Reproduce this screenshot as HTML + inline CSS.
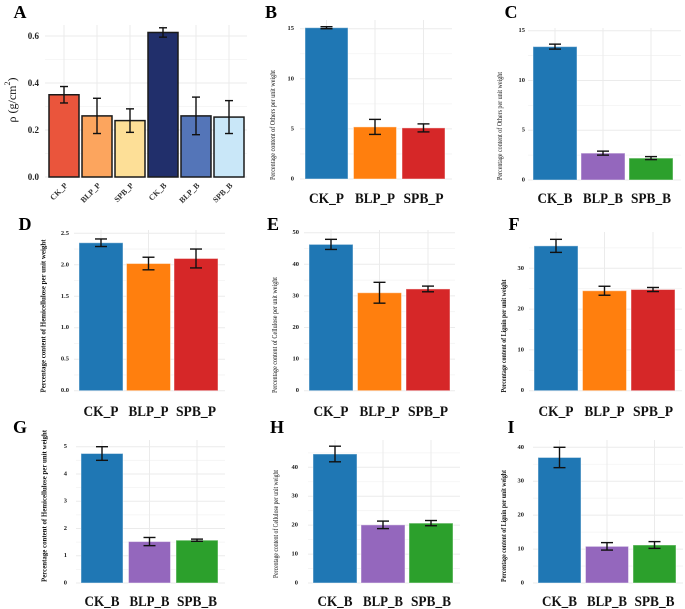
<!DOCTYPE html>
<html><head><meta charset="utf-8">
<style>
html,body{margin:0;padding:0;background:#fff;}
svg{display:block;font-family:"Liberation Serif",serif;}
</style></head>
<body>
<svg id="fig" width="685" height="609" viewBox="0 0 685 609" xmlns="http://www.w3.org/2000/svg"></svg>
<script>
// ---- data ----
const catsA = ["CK_P","BLP_P","SPB_P","CK_B","BLP_B","SPB_B"];
const meansA = [0.35,0.26,0.24,0.615,0.26,0.255];
const errsA = [0.035,0.075,0.05,0.02,0.08,0.07];
const ticksA = [0,0.2,0.4,0.6];
const tickLabelsA = ["0.0","0.2","0.4","0.6"];

const catsP = ["CK_P","BLP_P","SPB_P"];
const catsB = ["CK_B","BLP_B","SPB_B"];

const meansB = [15.1,5.2,5.1];
const errsB = [0.1,0.75,0.4];
const ticksB = [0,5,10,15];

const meansC = [13.4,2.7,2.2];
const errsC = [0.25,0.2,0.15];
const ticksC = [0,5,10,15];

const meansD = [2.35,2.02,2.1];
const errsD = [0.06,0.1,0.15];
const ticksD = [0,0.5,1.0,1.5,2.0,2.5];
const tickLabelsD = ["0.0","0.5","1.0","1.5","2.0","2.5"];

const meansE = [46.3,31,32.2];
const errsE = [1.6,3.3,0.9];
const ticksE = [0,10,20,30,40,50];

const meansF = [35.5,24.5,24.8];
const errsF = [1.6,1.1,0.5];
const ticksF = [0,10,20,30];

const meansG = [4.75,1.52,1.57];
const errsG = [0.25,0.15,0.04];
const ticksG = [0,1,2,3,4,5];

const meansH = [44.6,20.1,20.7];
const errsH = [2.7,1.3,0.9];
const ticksH = [0,10,20,30,40];

const meansI = [37,10.8,11.2];
const errsI = [3,1.1,1];
const ticksI = [0,10,20,30,40];

const colorsP = ["#1f77b4","#ff7f0e","#d62728"];
const colorsB = ["#1f77b4","#9467bd","#2ca02c"];
const colorsA = ["#ea553c","#fca55e","#fddf97","#212f6b","#5475b8","#c9e7f8"];

const NS = "http://www.w3.org/2000/svg";
const svg = document.getElementById("fig");
function mk(tag, attrs, parent){
  const e = document.createElementNS(NS, tag);
  for (const k in attrs) e.setAttribute(k, attrs[k]);
  (parent||svg).appendChild(e);
  return e;
}

function panel(cfg){
  const g = mk("g", {});
  
  
  const k = (cfg.y0 - cfg.refPx) / cfg.refVal;
  const yS = v => cfg.y0 - v * k;
  const ticks = cfg.ticks;
  for (let i = 0; i < ticks.length; i++) {
    const step = ticks.length > 1 ? ticks[1]-ticks[0] : 1;
    const m = ticks[i] + step/2;
    if (yS(m) > cfg.top) {
      const l = mk("line", {x1:cfg.px0, x2:cfg.px1, y1:yS(m), y2:yS(m), stroke:"#f3f3f3", "stroke-width":0.8}, g);
      
      
    }
  }
  ticks.forEach((t,i) => {
    const y = yS(t);
    const l = mk("line", {x1:cfg.px0, x2:cfg.px1, y1:y, y2:y, stroke:"#ebebeb", "stroke-width":1}, g);
    
    
    const tx = mk("text", {x:cfg.tickX, y:y, "text-anchor":"end", "dominant-baseline":"central", "font-size":cfg.tickFs, "font-weight":"bold", fill:"#222"}, g);
    tx.textContent = cfg.tickLabels ? cfg.tickLabels[i] : String(t);
    
    
  });
  cfg.cats.forEach((c,i) => {
    const cx = cfg.barX + i*cfg.step + cfg.bw/2;
    const l = mk("line", {x1:cx, x2:cx, y1:cfg.top, y2:cfg.y0, stroke:"#ebebeb", "stroke-width":1}, g);
    
    
  });
  cfg.cats.forEach((c,i) => {
    const x = cfg.barX + i*cfg.step;
    const cx = x + cfg.bw/2;
    const v = cfg.means[i], e = cfg.errs[i];
    const r = mk("rect", {x:x, y:yS(v), width:cfg.bw, height:cfg.y0 - yS(v), fill:cfg.colors[i],
      stroke: cfg.dark ? "#1a1a1a" : "rgba(255,255,255,0.45)", "stroke-width": cfg.dark ? 1.5 : 1}, g);
    
    
    const eg = mk("g", {stroke:"#111", "stroke-width":1.4, fill:"none"}, g);
    
    
    const hw = cfg.capW/2;
    mk("line", {x1:cx, x2:cx, y1:yS(v+e), y2:yS(v-e)}, eg);
    mk("line", {x1:cx-hw, x2:cx+hw, y1:yS(v+e), y2:yS(v+e)}, eg);
    mk("line", {x1:cx-hw, x2:cx+hw, y1:yS(v-e), y2:yS(v-e)}, eg);
    let t;
    if (cfg.rotLabels) {
      t = mk("text", {x:cx+4, y:cfg.labY, "text-anchor":"end", "font-size":8, "font-weight":"bold", fill:"#333",
        transform:"rotate(-45 " + (cx+4) + " " + cfg.labY + ")"}, g);
    } else {
      t = mk("text", {x:cx, y:cfg.labY, "text-anchor":"middle", "font-size":15, "font-weight":"bold", fill:"#111",
        textLength: c.startsWith("CK") ? 35 : 40, lengthAdjust:"spacingAndGlyphs"}, g);
    }
    t.textContent = c;
    
    
  });
  const yt = mk("text", {x:cfg.titleX, y:cfg.titleC, "text-anchor":"middle", "dominant-baseline":"central",
    "font-size":cfg.titleFs, "font-weight":cfg.titleBold ? "bold":"normal", fill:"#111",
    transform:"rotate(-90 " + cfg.titleX + " " + cfg.titleC + ")"}, g);
  if (cfg.titleLen) { yt.setAttribute("textLength", cfg.titleLen); yt.setAttribute("lengthAdjust","spacingAndGlyphs"); }
  if (cfg.rho) {
    yt.textContent = "ρ (g/cm";
    const s = mk("tspan", {"baseline-shift":"super", "font-size":8}, yt);
    s.textContent = "2";
    const s2 = mk("tspan", {}, yt);
    s2.textContent = ")";
  } else {
    yt.textContent = cfg.title;
  }
  
  
  const pl = mk("text", {x:cfg.lx, y:cfg.ly, "text-anchor":"middle", "dominant-baseline":"central", "font-size":18, "font-weight":"bold", fill:"#000"}, g);
  pl.textContent = cfg.id;
  
  
}

panel({id:"A", cats:catsA, means:meansA, errs:errsA, ticks:ticksA, tickLabels:tickLabelsA, colors:colorsA, dark:true,
  y0:177, refVal:0.6, refPx:36, barX:49, bw:30, step:33, px0:45, px1:247, top:25, tickX:39, tickFs:9,
  capW:8, rotLabels:true, labY:186, titleX:12, titleC:100, titleFs:12, rho:true, lx:20, ly:12});

const tOthers = "Percentage content of Others per unit weight";
const tHemi = "Percentage content of Hemicellulose per unit weight";
const tCell = "Percentage content of Cellulose per unit weight";
const tLig = "Percentage content of Lignin per unit weight";

panel({id:"B", cats:catsP, means:meansB, errs:errsB, ticks:ticksB, colors:colorsP,
  y0:179, refVal:15, refPx:28.7, barX:305, bw:43, step:48.5, px0:300, px1:452, top:20, tickX:294, tickFs:6.5,
  capW:12, labY:203, titleX:273, titleC:125, titleLen:110, title:tOthers, titleFs:7, lx:271, ly:12});
panel({id:"C", cats:catsB, means:meansC, errs:errsC, ticks:ticksC, colors:colorsB,
  y0:180, refVal:15, refPx:30.7, barX:533, bw:44, step:48, px0:528, px1:681, top:28, tickX:525, tickFs:6.5,
  capW:12, labY:203, titleX:500, titleC:126, titleLen:108, title:tOthers, titleFs:7, lx:511, ly:12});
panel({id:"D", cats:catsP, means:meansD, errs:errsD, ticks:ticksD, tickLabels:tickLabelsD, colors:colorsP,
  y0:390.7, refVal:2.5, refPx:233.3, barX:79, bw:44, step:47.5, px0:74, px1:225, top:230, tickX:69, tickFs:6.5,
  capW:12, labY:416, titleX:43, titleC:316, titleLen:153, title:tHemi, titleFs:7.5, titleBold:true, lx:25, ly:224});
panel({id:"E", cats:catsP, means:meansE, errs:errsE, ticks:ticksE, colors:colorsP,
  y0:390.7, refVal:50, refPx:232.7, barX:309, bw:44, step:48.5, px0:304, px1:455, top:230, tickX:299, tickFs:6.5,
  capW:12, labY:416, titleX:275, titleC:335, titleLen:116, title:tCell, titleFs:7, lx:273, ly:224});
panel({id:"F", cats:catsP, means:meansF, errs:errsF, ticks:ticksF, colors:colorsP,
  y0:390.7, refVal:30, refPx:268.3, barX:534, bw:44, step:48.5, px0:529, px1:682, top:232, tickX:524, tickFs:6.5,
  capW:12, labY:416, titleX:504, titleC:336, titleLen:113, title:tLig, titleFs:7, titleBold:true, lx:514, ly:224});
panel({id:"G", cats:catsB, means:meansG, errs:errsG, ticks:ticksG, colors:colorsB,
  y0:583, refVal:5, refPx:446.7, barX:81, bw:42, step:47.5, px0:76, px1:225, top:440, tickX:67, tickFs:6.5,
  capW:12, labY:606, titleX:44, titleC:506, titleLen:152, title:tHemi, titleFs:7.5, titleBold:true, lx:20, ly:427});
panel({id:"H", cats:catsB, means:meansH, errs:errsH, ticks:ticksH, colors:colorsB,
  y0:583, refVal:40, refPx:467.3, barX:313, bw:44, step:48, px0:308, px1:460, top:440, tickX:298, tickFs:6.5,
  capW:12, labY:606, titleX:276, titleC:524, titleLen:108, title:tCell, titleFs:7, lx:277, ly:427});
panel({id:"I", cats:catsB, means:meansI, errs:errsI, ticks:ticksI, colors:colorsB,
  y0:583, refVal:40, refPx:447.3, barX:538, bw:43, step:47.5, px0:533, px1:683, top:440, tickX:524, tickFs:6.5,
  capW:12, labY:606, titleX:504, titleC:526, titleLen:112, title:tLig, titleFs:7, titleBold:true, lx:511, ly:427});
</script>
</body></html>
